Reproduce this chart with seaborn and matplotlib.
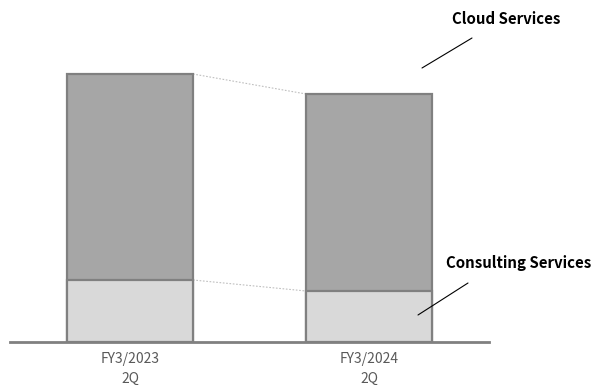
import matplotlib
matplotlib.use("Agg")
import matplotlib.pyplot as plt
import seaborn as sns
import pandas as pd

# Segment values for each period
periods = ["FY3/2023\n2Q", "FY3/2024\n2Q"]
consulting = [62, 51]
cloud = [206, 197]

totals = [c + s for c, s in zip(consulting, cloud)]
df = pd.DataFrame({"period": periods, "consulting": consulting, "total": totals})

sns.set_style("white")
plt.rcParams["font.family"] = ["Noto Sans CJK JP", "DejaVu Sans"]

fig = plt.figure(figsize=(5.94, 3.85), dpi=100)
ax = fig.add_axes([10 / 594, 43 / 385, 479 / 594, 312 / 385])

edge = "#808080"
bar_w = 0.527
sns.barplot(data=df, x="period", y="total", color="#A6A6A6", width=bar_w,
            edgecolor=edge, linewidth=1.6, saturation=1, ax=ax, zorder=2)
sns.barplot(data=df, x="period", y="consulting", color="#D9D9D9", width=bar_w,
            edgecolor=edge, linewidth=1.6, saturation=1, ax=ax, zorder=3)

# Dotted connectors between the bars
half = bar_w / 2
for series in (totals, consulting):
    ax.plot([0 + half, 1 - half], [series[0], series[1]], color="#BFBFBF",
            linestyle=(0, (1.5, 1.5)), linewidth=0.8, zorder=1)

ax.set_xlim(-0.502, 1.502)
ax.set_ylim(0, 312)
ax.set_xlabel("")
ax.set_ylabel("")
ax.set_yticks([])
for side in ("top", "right", "left"):
    ax.spines[side].set_visible(False)
ax.spines["bottom"].set_color("#808080")
ax.spines["bottom"].set_linewidth(2)
ax.tick_params(axis="x", length=0, pad=7, labelsize=10, labelcolor="#595959")
for lbl in ax.get_xticklabels():
    lbl.set_linespacing(1.55)

# Series labels with leader lines
fig.text(506 / 594, 1 - 19 / 385, "Cloud Services", ha="center", va="center",
         fontsize=10.8, fontweight="bold", color="black")
fig.text(519 / 594, 1 - 263 / 385, "Consulting Services", ha="center", va="center",
         fontsize=10.8, fontweight="bold", color="black")
fig.add_artist(plt.Line2D([472 / 594, 422 / 594], [1 - 38 / 385, 1 - 68 / 385],
                          color="black", linewidth=0.8))
fig.add_artist(plt.Line2D([468 / 594, 418 / 594], [1 - 283 / 385, 1 - 315 / 385],
                          color="black", linewidth=0.8))

fig.savefig("out.png", dpi=100)
